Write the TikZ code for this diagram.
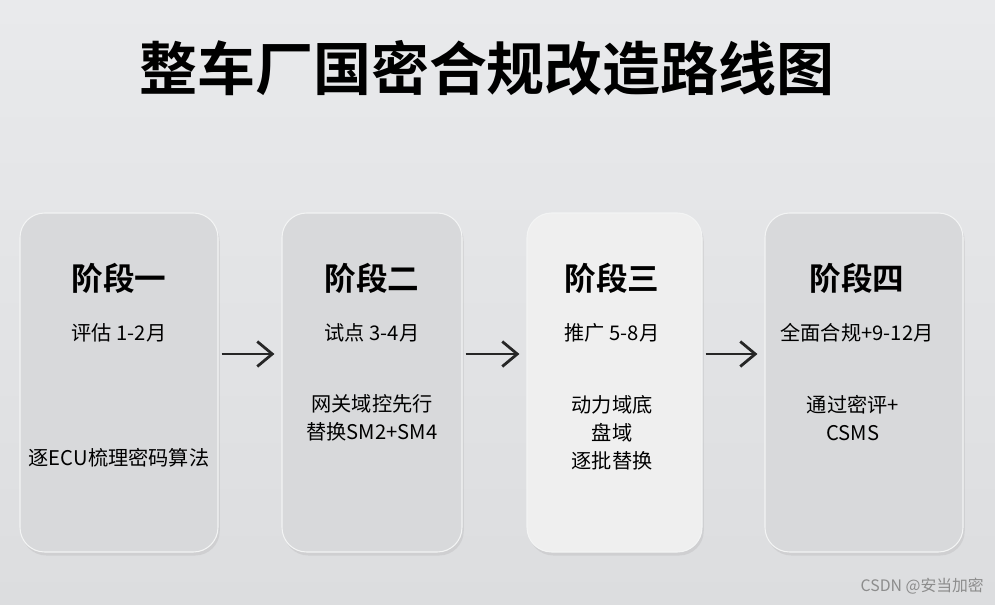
\documentclass[tikz,border=0pt]{standalone}
\usepackage{fontspec}
\setmainfont{Noto Sans CJK SC}[BoldFont={Noto Sans CJK SC Bold}]
\usetikzlibrary{positioning,arrows.meta,shadows}
\definecolor{bgtop}{HTML}{E9EAEC}
\definecolor{bgbot}{HTML}{DCDDDF}
\definecolor{cardgrey}{HTML}{D8D9DB}
\definecolor{cardlight}{HTML}{EFEFEF}

\begin{document}
\begin{tikzpicture}[x=0.02cm,y=-0.02cm,
    arrowstyle/.style={-{Straight Barb[length=3mm,width=5mm]}, line width=1.6pt, black!85, shorten >=4pt},
    stagebox/.style={draw=white!70!cardgrey, line width=0.6pt, rounded corners=14pt, fill=cardgrey,
      minimum width=#1, minimum height=339*0.02cm, drop shadow={opacity=0.15,shadow xshift=1pt,shadow yshift=-2pt}},
    stagehead/.style={font=\fontsize{18}{20}\selectfont\bfseries},
    stagetext/.style={font=\fontsize{11.5}{16}\selectfont, align=center}]
  % background
  \shade[top color=bgtop, bottom color=bgbot] (0,0) rectangle (995,605);
  \useasboundingbox (0,0) rectangle (995,605);

  % title
  \node (title) [font=\fontsize{33}{38}\selectfont\bfseries] at (487,68) {整车厂国密合规改造路线图};

  % stage boxes
  \node (S1) [stagebox=198*0.02cm] at (119,382.5) {};
  \node (S2) [stagebox=180*0.02cm] at (372,382.5) {};
  \node (S3) [stagebox=175*0.02cm, fill=cardlight] at (614.5,382.5) {};
  \node (S4) [stagebox=198*0.02cm] at (864,382.5) {};

  % stage texts
  \node (H1) [stagehead] at (119,278) {阶段一};
  \node (T1) [stagetext] at (119,333) {评估 1-2月};
  \node (D1) [stagetext] at (119,458) {逐ECU梳理密码算法};

  \node (H2) [stagehead] at (372,278) {阶段二};
  \node (T2) [stagetext] at (372,333) {试点 3-4月};
  \node (D2) [stagetext] at (372,418) {网关域控先行\\替换SM2+SM4};

  \node (H3) [stagehead] at (612,278) {阶段三};
  \node (T3) [stagetext] at (612,333) {推广 5-8月};
  \node (D3) [stagetext] at (612,433) {动力域底\\盘域\\逐批替换};

  \node (H4) [stagehead] at (857,278) {阶段四};
  \node (T4) [stagetext] at (857,333) {全面合规+9-12月};
  \node (D4) [stagetext] at (853,418) {通过密评+\\CSMS};

  % arrows
  \draw[arrowstyle] (S1.east |- 0,354) ++(3,0) coordinate (a1) -- (S2.west |- 0,354);
  \draw[arrowstyle] (S2.east |- 0,354) ++(3,0) coordinate (a2) -- (S3.west |- 0,354);
  \draw[arrowstyle] (S3.east |- 0,354) ++(3,0) coordinate (a3) -- (S4.west |- 0,354);

  % watermark
  \node (mark) [font=\fontsize{9}{10}\selectfont, text=black!45, anchor=east] at (990,586) {CSDN @安当加密};
\end{tikzpicture}
\end{document}
